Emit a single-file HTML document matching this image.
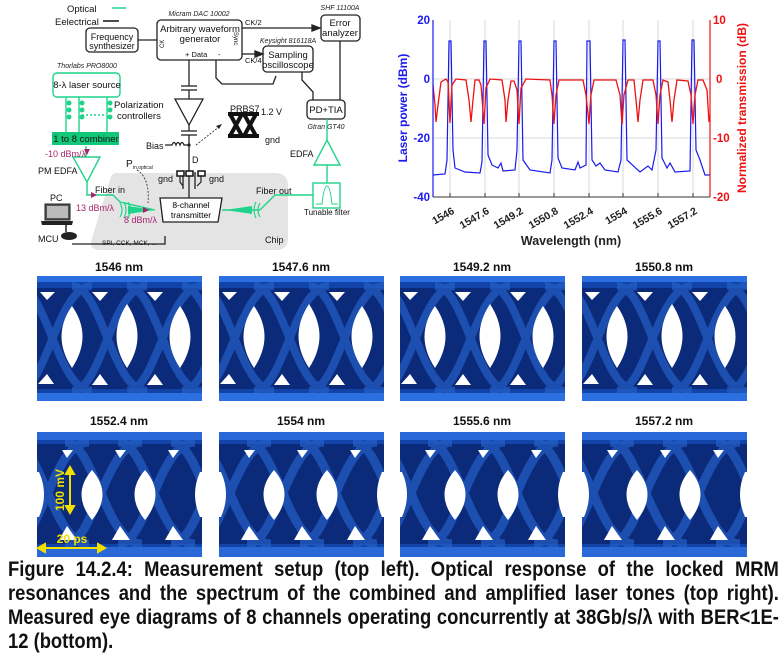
<!DOCTYPE html>
<html><head><meta charset="utf-8">
<style>
html,body{margin:0;padding:0;background:#fff;}
body{width:782px;height:655px;position:relative;overflow:hidden;font-family:"Liberation Sans",sans-serif;}
svg{position:absolute;left:0;top:0;}
.cap{position:absolute;left:8px;width:880px;font-weight:bold;font-size:21px;line-height:24px;white-space:nowrap;transform:scaleX(0.876);transform-origin:0 0;text-align:justify;text-align-last:justify;color:#111;}
</style></head><body>
<svg width="782" height="655" viewBox="0 0 782 655" font-family="Liberation Sans, sans-serif">
<defs>
<symbol id="eyeA" viewBox="0 0 165 125">
<rect x="0" y="0" width="165" height="125" fill="#1243a8"/>
<rect x="0" y="12" width="165" height="101" fill="#0c2a7a"/>
<g fill="none" stroke="#2460c8" stroke-width="8" opacity="0.7">
<path d="M-20,10 C10,10 20,115 55,115 M35,10 C65,10 75,115 110,115 M90,10 C120,10 130,115 165,115 M145,10 C175,10 185,115 220,115"/>
<path d="M-20,115 C10,115 20,10 55,10 M35,115 C65,115 75,10 110,10 M90,115 C120,115 130,10 165,10 M145,115 C175,115 185,10 220,10"/>
</g>
<rect x="0" y="0" width="165" height="6" fill="#2b6fe0"/>
<rect x="0" y="117" width="165" height="8" fill="#2b6fe0"/>
<g fill="#fff">
<path d="M35,30 Q56,60 35,92 Q14,60 35,30Z"/>
<path d="M90,28 Q111,60 90,92 Q69,60 90,28Z"/>
<path d="M143,30 Q164,60 143,92 Q122,60 143,30Z"/>
<path d="M3,16 L18,16 L10,24Z"/><path d="M55,16 L71,16 L63,25Z"/><path d="M110,16 L126,16 L118,25Z"/>
<path d="M1,108 L17,108 L10,98Z"/><path d="M55,109 L71,109 L63,98Z"/><path d="M110,109 L126,109 L118,98Z"/>
</g>
</symbol>
<symbol id="eyeB" viewBox="0 0 165 125">
<rect x="0" y="0" width="165" height="125" fill="#1243a8"/>
<rect x="0" y="12" width="165" height="100" fill="#0c2a7a"/>
<g fill="none" stroke="#2460c8" stroke-width="9" opacity="0.7">
<path d="M-25,10 C5,10 15,112 52,112 M28,10 C58,10 68,112 105,112 M81,10 C111,10 121,112 158,112 M134,10 C164,10 174,112 211,112"/>
<path d="M-25,112 C5,112 15,10 52,10 M28,112 C58,112 68,10 105,10 M81,112 C111,112 121,10 158,10 M134,112 C164,112 174,10 211,10"/>
</g>
<rect x="0" y="0" width="165" height="8" fill="#2a68d8"/>
<rect x="0" y="115" width="165" height="10" fill="#2a68d8"/>
<g fill="#fff">
<path d="M2,40 Q12,62 2,85 L0,85 L0,40Z"/>
<path d="M55,38 Q76,62 55,88 Q34,62 55,38Z"/>
<path d="M108,38 Q129,62 108,88 Q87,62 108,38Z"/>
<path d="M163,40 Q153,62 163,85 L165,85 L165,40Z"/>
<path d="M22,108 L40,108 L30,94Z"/><path d="M75,108 L93,108 L83,94Z"/><path d="M128,108 L146,108 L136,94Z"/>
<path d="M25,18 L36,18 L30,26Z"/><path d="M78,18 L89,18 L83,26Z"/><path d="M131,18 L142,18 L136,26Z"/>
</g>
</symbol>
</defs>

<path d="M115,173 L275,173 Q288,173 288,186 L288,238 Q288,250 276,250 L100,250 Q88,250 92,238 L110,180 Q112,173 115,173Z" fill="#e4e4e4"/>
<g font-size="9.5" fill="#111">
<text x="67" y="12">Optical</text><line x1="112" y1="8" x2="126" y2="8" stroke="#1fd48a" stroke-width="1.5"/>
<text x="55" y="25">Eelectrical</text><line x1="103" y1="21" x2="119" y2="21" stroke="#111" stroke-width="1.5"/>
</g>
<g font-size="7" font-style="italic" fill="#222" text-anchor="middle">
<text x="199" y="16">Micram DAC 10002</text>
<text x="340" y="10">SHF 11100A</text>
<text x="288" y="43">Keysight 816118A</text>
<text x="87" y="68">Thorlabs PRO8000</text>
<text x="326" y="129">Gtran GT40</text>
</g>
<g fill="#fff" stroke="#222" stroke-width="1.3">
<rect x="86" y="28" width="52" height="24" rx="4"/>
<rect x="157" y="20" width="85" height="40" rx="4"/>
<rect x="321" y="15" width="39" height="26" rx="4"/>
<rect x="263" y="46" width="50" height="26" rx="4"/>
<rect x="307" y="100" width="38" height="19" rx="4"/>
</g>
<rect x="53" y="73" width="67" height="24" rx="4" fill="#fff" stroke="#1fd48a" stroke-width="1.4"/>
<g stroke="#222" stroke-width="1.3" fill="none">
<line x1="138" y1="40" x2="157" y2="40"/>
<path d="M242,28 L315,28"/><path d="M312,25 L320,28 L312,31Z" fill="#222"/>
<path d="M242,54 L258,54"/><path d="M255,51 L263,54 L255,57Z" fill="#222"/>
<path d="M216,60 L216,78 L222,84 L273,84 L276,76"/>
<path d="M302,72 L302,80 L313,92 L313,100"/>
<line x1="340" y1="41" x2="340" y2="100"/>
<line x1="189" y1="60" x2="189" y2="86"/>
<line x1="181" y1="86" x2="197" y2="86"/><line x1="181" y1="90" x2="197" y2="90"/>
<line x1="189" y1="90" x2="189" y2="99"/>
<path d="M175,99 L203,99 L189,125Z" fill="#fff"/>
<line x1="189" y1="125" x2="189" y2="131"/>
<line x1="181" y1="131" x2="197" y2="131"/><line x1="181" y1="135" x2="197" y2="135"/>
<line x1="189" y1="135" x2="189" y2="198"/>
<path d="M165,145 L172,145 q2,-5 4,0 q2,-5 4,0 q2,-5 4,0 L189,145"/>
<path d="M183,172 L183,189 M195,172 L195,189"/>
<path d="M165,236 L165,244 L72,244"/>
</g>
<circle cx="189" cy="145" r="1.6" fill="#222"/>
<path d="M196,145 Q205,138 220,126" stroke="#222" stroke-width="0.8" stroke-dasharray="2,1.5" fill="none"/>
<path d="M216,126 L222,124 L219,129Z" fill="#222"/>
<g stroke="#111" stroke-width="1.5"><rect x="177" y="171" width="7" height="5" fill="#fff"/><rect x="186" y="171" width="7" height="5" fill="#fff"/><rect x="198" y="171" width="7" height="5" fill="#fff"/></g>
<path d="M180,176 L180,182 L183,186 M201,176 L201,182 L197,186" stroke="#222" stroke-width="1.2" fill="none"/>
<g stroke="#111" stroke-width="4" fill="none">
<line x1="228" y1="114" x2="259" y2="114"/><line x1="228" y1="136" x2="259" y2="136"/>
<path d="M230,114 L242,136 M242,114 L230,136 M244,114 L256,136 M256,114 L244,136"/>
</g>
<g font-size="9.5" fill="#111">
<text x="112" y="40" text-anchor="middle" font-size="9">Frequency</text><text x="112" y="49" text-anchor="middle" font-size="9">synthesizer</text>
<text x="200" y="32" text-anchor="middle">Arbitrary waveform</text><text x="200" y="42" text-anchor="middle">generator</text>
<text x="185" y="57" font-size="7.5">+ Data</text><text x="218" y="57" font-size="7.5">-</text>
<text x="340" y="26" text-anchor="middle">Error</text><text x="340" y="36" text-anchor="middle">analyzer</text>
<text x="288" y="58" text-anchor="middle">Sampling</text><text x="288" y="68" text-anchor="middle">oscilloscope</text>
<text x="326" y="113" text-anchor="middle">PD+TIA</text>
<text x="87" y="88" text-anchor="middle">8-λ laser source</text>
<text x="114" y="108">Polarization</text><text x="117" y="119">controllers</text>
<text x="230" y="112" font-size="9">PRBS7</text><text x="261" y="115" font-size="9">1.2 V</text>
<text x="265" y="143" font-size="9">gnd</text>
<text x="146" y="149" font-size="9">Bias</text>
<text x="192" y="163" font-size="9">D</text>
<text x="158" y="182" font-size="9">gnd</text><text x="209" y="182" font-size="9">gnd</text>
<text x="290" y="157" font-size="9">EDFA</text>
<text x="38" y="174" font-size="9">PM EDFA</text>
<text x="95" y="193" font-size="9">Fiber in</text>
<text x="256" y="194" font-size="9">Fiber out</text>
<text x="50" y="201" font-size="9">PC</text>
<text x="38" y="242" font-size="9">MCU</text>
<text x="304" y="215" font-size="8">Tunable filter</text>
<text x="102" y="245" font-size="6.5">SPI, CCK, MCK, ...</text>
<text x="265" y="243" font-size="9">Chip</text>
<text x="126" y="167" font-size="10">P</text><text x="133" y="169" font-size="5">in,optical</text>
</g>
<g font-size="6" fill="#111"><text x="164" y="48" transform="rotate(-90 164 48)">CK</text><text x="234" y="32" transform="rotate(90 234 32)">Sync</text></g>
<g font-size="7.5" fill="#111"><text x="245" y="25">CK/2</text><text x="245" y="63">CK/4</text></g>
<g stroke="#1fd48a" stroke-width="1.4" fill="none">
<line x1="66" y1="97" x2="66" y2="132"/><line x1="79" y1="97" x2="79" y2="132"/><line x1="107" y1="97" x2="107" y2="132"/>
<line x1="82" y1="115" x2="104" y2="115" stroke-dasharray="2,2"/>
<line x1="86" y1="146" x2="86" y2="157"/>
<path d="M73,157 L100,157 L87,182Z"/>
<path d="M87,182 L87,195 L113,195 L120,202 L155,210"/>
<line x1="222" y1="210" x2="260" y2="210"/>
<path d="M260,210 L275,195 L313,195"/>
<rect x="313" y="183" width="27" height="25"/>
<path d="M316,204 L322,204 Q324,186 327,186 Q330,186 332,204 L338,204" stroke-width="1"/>
<line x1="327" y1="183" x2="327" y2="165"/>
<path d="M314,165 L340,165 L327,140Z"/>
<line x1="327" y1="140" x2="327" y2="119"/>
</g>
<rect x="52" y="132" width="67" height="13" fill="#10c878"/>
<text x="86" y="142" font-size="9.5" text-anchor="middle" fill="#111">1 to 8 combiner</text>
<g fill="#1fd48a"><circle cx="69" cy="103" r="2.5"/><circle cx="69" cy="110" r="2.5"/><circle cx="69" cy="117" r="2.5"/><circle cx="82" cy="103" r="2.5"/><circle cx="82" cy="110" r="2.5"/><circle cx="82" cy="117" r="2.5"/><circle cx="110" cy="103" r="2.5"/><circle cx="110" cy="110" r="2.5"/><circle cx="110" cy="117" r="2.5"/>
<path d="M128,206 L155,210 L128,214Z"/><path d="M252,206 L225,210 L252,214Z"/></g>
<g stroke="#1fd48a" stroke-width="1.2" fill="none"><path d="M120,203 q4,7 0,14 M124,202 q4,8 0,16 M128,202 q4,8 0,16"/><path d="M260,203 q-4,7 0,14 M256,202 q-4,8 0,16"/></g>
<path d="M160,198 L222,198 L218,222 L163,222Z" fill="#fff" stroke="#222" stroke-width="1.3"/>
<text x="191" y="208" font-size="8.5" text-anchor="middle">8-channel</text><text x="191" y="218" font-size="8.5" text-anchor="middle">transmitter</text>
<g fill="#a8236e" font-size="9"><text x="45" y="157">-10 dBm/λ</text><text x="76" y="211">13 dBm/λ</text><text x="124" y="223">8 dBm/λ</text>
<path d="M84,149 L90,149 L87,155Z"/><path d="M91,192 L97,195 L91,198Z"/><path d="M143,207 L149,210 L143,213Z"/></g>
<path d="M137,170 Q150,178 148,203" stroke="#222" stroke-width="0.8" stroke-dasharray="2,1.5" fill="none"/>
<rect x="45" y="204" width="25" height="16" fill="#555" stroke="#222"/>
<rect x="47" y="206" width="21" height="12" fill="#bbb"/>
<path d="M41,221 L73,221 L72,225 L42,225Z" fill="#222"/>
<line x1="66" y1="225" x2="66" y2="232" stroke="#222" stroke-width="1.5"/>
<ellipse cx="69" cy="236" rx="8" ry="4" fill="#222"/>

<g stroke="#d8d8d8" stroke-width="1">
<line x1="450" y1="20" x2="450" y2="197"/><line x1="485" y1="20" x2="485" y2="197"/><line x1="519" y1="20" x2="519" y2="197"/><line x1="554" y1="20" x2="554" y2="197"/><line x1="589" y1="20" x2="589" y2="197"/><line x1="623" y1="20" x2="623" y2="197"/><line x1="658" y1="20" x2="658" y2="197"/><line x1="693" y1="20" x2="693" y2="197"/>
<line x1="433" y1="79" x2="710" y2="79"/><line x1="433" y1="138" x2="710" y2="138"/>
</g>
<path d="M433,175 L445,174 L447,160 L449,41 L451,41 L453,150 L455,168 L465,172 L480,173 L482,162 L484,41 L486,41 L488,155 L492,165 L498,168 L501,163 L503,171 L515,170 L517,150 L519,41 L521,41 L523,160 L530,170 L550,173 L552,160 L554,41 L556,41 L558,158 L562,168 L575,170 L578,162 L580,168 L586,165 L587,41 L590,41 L592,160 L596,166 L600,163 L605,170 L618,172 L621,160 L623,40 L625,40 L627,160 L640,172 L648,166 L652,170 L656,150 L658,41 L660,41 L662,158 L667,168 L670,163 L675,172 L690,171 L692,40 L694,40 L696,150 L700,160 L705,175 L710,175" fill="none" stroke="#1a1aee" stroke-width="1.2"/>
<path d="M433,85 L435,105 L436,122 L438,105 L441,82 L446,79 L448,82 L450,123 L452,85 L456,79 L466,80 L469,100 L471,122 L473,100 L475,80 L479,80 L481,85 L484,124 L486,88 L490,79 L502,80 L505,100 L506,122 L508,100 L511,81 L514,81 L517,90 L519,124 L521,88 L526,79 L550,80 L552,95 L554,124 L556,95 L559,80 L583,80 L586,95 L589,124 L591,95 L594,80 L616,80 L620,95 L622,124 L624,95 L628,80 L634,80 L636,100 L638,122 L640,100 L643,80 L653,80 L656,95 L658,124 L660,95 L663,80 L668,82 L670,100 L672,122 L674,100 L677,80 L688,81 L691,95 L693,124 L695,95 L698,80 L703,80 L707,90 L709,122 L710,115" fill="none" stroke="#ee1111" stroke-width="1.3"/>
<line x1="433" y1="20" x2="433" y2="197" stroke="#1a1aee" stroke-width="1.2"/>
<line x1="710" y1="20" x2="710" y2="197" stroke="#ee1111" stroke-width="1.2"/>
<line x1="433" y1="197" x2="710" y2="197" stroke="#333" stroke-width="1"/>
<g stroke="#333"><line x1="450" y1="197" x2="450" y2="193"/><line x1="485" y1="197" x2="485" y2="193"/><line x1="519" y1="197" x2="519" y2="193"/><line x1="554" y1="197" x2="554" y2="193"/><line x1="589" y1="197" x2="589" y2="193"/><line x1="623" y1="197" x2="623" y2="193"/><line x1="658" y1="197" x2="658" y2="193"/><line x1="693" y1="197" x2="693" y2="193"/></g>
<g font-size="11.5" font-weight="bold" fill="#1a1aee" text-anchor="end">
<text x="430" y="24">20</text><text x="430" y="83">0</text><text x="430" y="142">-20</text><text x="430" y="201">-40</text>
<text x="407" y="108" text-anchor="middle" transform="rotate(-90 407 108)" font-size="12">Laser power (dBm)</text>
</g>
<g font-size="11.5" font-weight="bold" fill="#ee1111">
<text x="713" y="24">10</text><text x="716" y="83">0</text><text x="713" y="142">-10</text><text x="713" y="201">-20</text>
<text x="746" y="108" text-anchor="middle" transform="rotate(-90 746 108)" font-size="12">Normalized transmission (dB)</text>
</g>
<g font-size="10.5" font-weight="bold" fill="#222" text-anchor="end">
<text transform="translate(455,213) rotate(-30)">1546</text>
<text transform="translate(490,213) rotate(-30)">1547.6</text>
<text transform="translate(524,213) rotate(-30)">1549.2</text>
<text transform="translate(559,213) rotate(-30)">1550.8</text>
<text transform="translate(594,213) rotate(-30)">1552.4</text>
<text transform="translate(628,213) rotate(-30)">1554</text>
<text transform="translate(663,213) rotate(-30)">1555.6</text>
<text transform="translate(698,213) rotate(-30)">1557.2</text>
</g>
<text x="571" y="245" font-size="12.5" font-weight="bold" text-anchor="middle" fill="#222">Wavelength (nm)</text>

<g font-size="12" font-weight="bold" fill="#111" text-anchor="middle">
<text x="119" y="271">1546 nm</text><text x="301" y="271">1547.6 nm</text><text x="482" y="271">1549.2 nm</text><text x="664" y="271">1550.8 nm</text>
<text x="119" y="425">1552.4 nm</text><text x="301" y="425">1554 nm</text><text x="482" y="425">1555.6 nm</text><text x="664" y="425">1557.2 nm</text>
</g>
<use href="#eyeA" x="37" y="276" width="165" height="125"/>
<use href="#eyeA" x="219" y="276" width="165" height="125"/>
<use href="#eyeA" x="400" y="276" width="165" height="125"/>
<use href="#eyeA" x="582" y="276" width="165" height="125"/>
<use href="#eyeB" x="37" y="432" width="165" height="125"/>
<use href="#eyeB" x="219" y="432" width="165" height="125"/>
<use href="#eyeB" x="400" y="432" width="165" height="125"/>
<use href="#eyeB" x="582" y="432" width="165" height="125"/>
<g stroke="#f2e000" stroke-width="2" fill="#f2e000">
<line x1="70" y1="472" x2="70" y2="508"/><path d="M66,474 L70,467 L74,474Z"/><path d="M66,506 L70,513 L74,506Z"/>
<line x1="43" y1="548" x2="100" y2="548"/><path d="M45,544 L38,548 L45,552Z"/><path d="M98,544 L105,548 L98,552Z"/>
</g>
<text x="64" y="490" font-size="12" font-weight="bold" fill="#f2e000" text-anchor="middle" transform="rotate(-90 64 490)">100 mV</text>
<text x="72" y="543" font-size="12" font-weight="bold" fill="#f2e000" text-anchor="middle">20 ps</text>
</svg>
<div class="cap" style="top:558px">Figure 14.2.4: Measurement setup (top left). Optical response of the locked MRM</div>
<div class="cap" style="top:582px">resonances and the spectrum of the combined and amplified laser tones (top right).</div>
<div class="cap" style="top:606px">Measured eye diagrams of 8 channels operating concurrently at 38Gb/s/λ with BER&lt;1E-</div>
<div class="cap" style="top:630px;text-align-last:left">12 (bottom).</div>
</body></html>
